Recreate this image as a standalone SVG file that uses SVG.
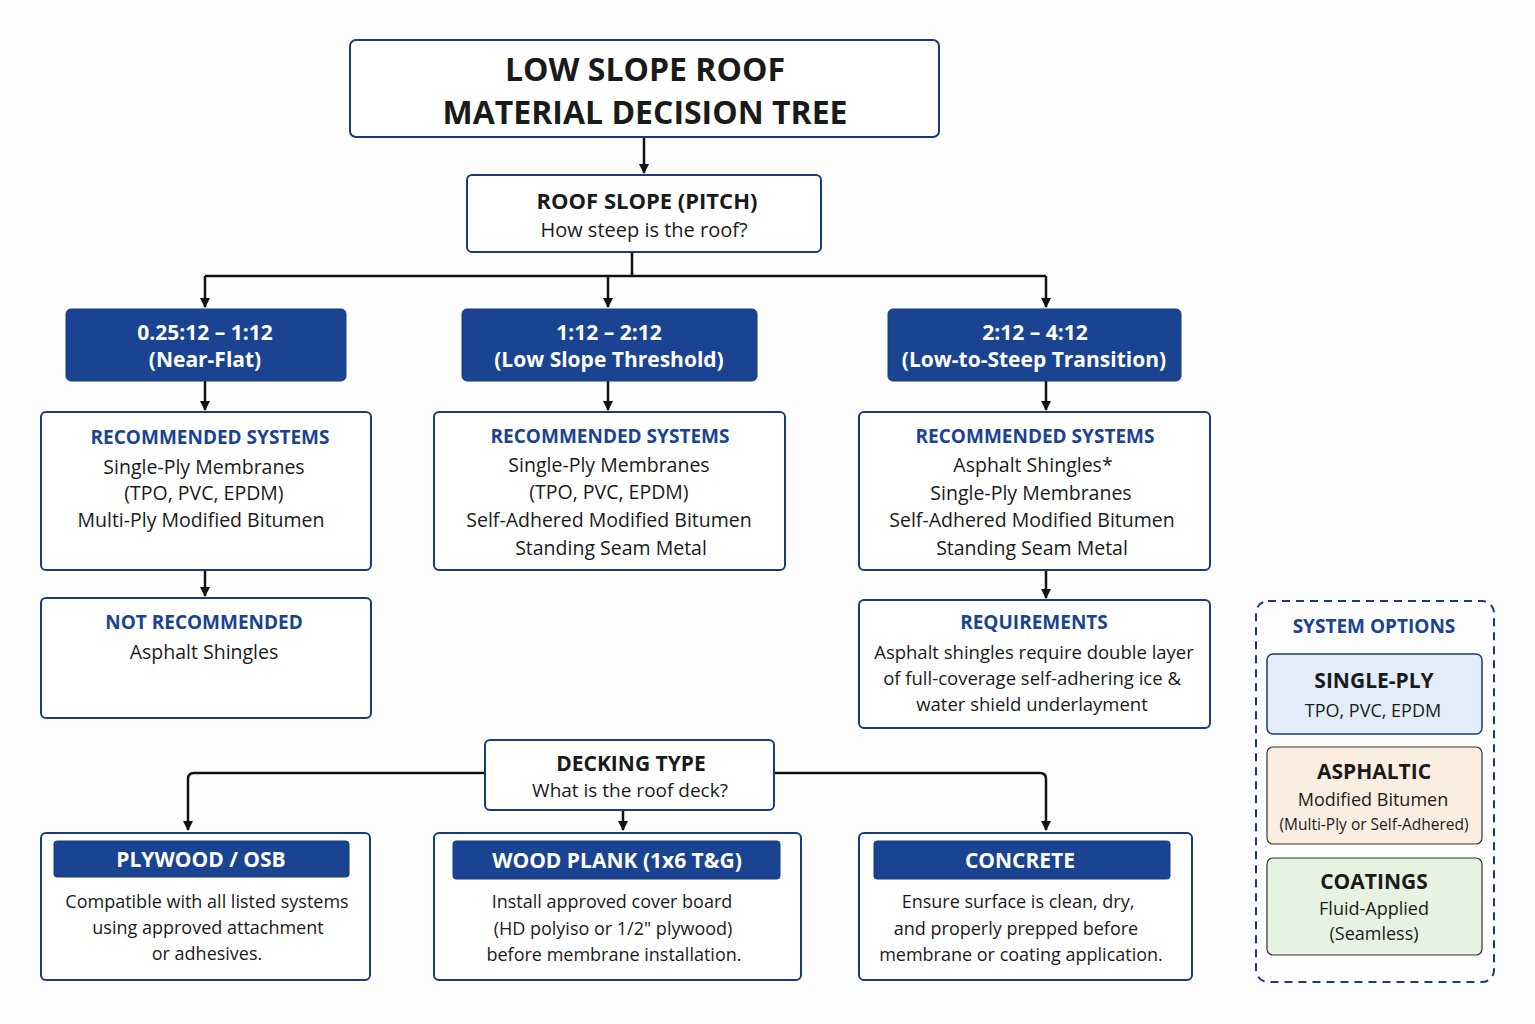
<svg xmlns="http://www.w3.org/2000/svg" width="1535" height="1024" viewBox="0 0 1535 1024">
<defs>
<marker id="ah" markerWidth="10" markerHeight="10" refX="9" refY="5" orient="auto" markerUnits="userSpaceOnUse"><path d="M0,0 L10,5 L0,10 Z" fill="#111"/></marker>
<style>
text{font-family:"Open Sans","Liberation Sans",sans-serif;text-anchor:middle;fill:#1a1a1a}
.box{fill:#fff;stroke:#1a3a7a;stroke-width:2}
.blue{fill:#1a4391;stroke:#1a3a7a;stroke-width:1}
.hw{fill:#fff;font-weight:bold;font-size:21px}
.hb{fill:#1a4391;font-weight:bold;font-size:19px}
.t{font-size:19.5px}
.b{font-weight:bold}
.c{fill:none;stroke:#111;stroke-width:2.5}
</style>
</defs>
<rect width="1535" height="1024" fill="#fdfdfd"/>
<g id="connectors">
<path class="c" d="M644,137 V173" marker-end="url(#ah)"/>
<path class="c" d="M632,252 V276 M205,276 H1046"/>
<path class="c" d="M205,276 V307" marker-end="url(#ah)"/>
<path class="c" d="M608,276 V307" marker-end="url(#ah)"/>
<path class="c" d="M1046,276 V307" marker-end="url(#ah)"/>
<path class="c" d="M205,381 V410" marker-end="url(#ah)"/>
<path class="c" d="M608,381 V410" marker-end="url(#ah)"/>
<path class="c" d="M1046,381 V410" marker-end="url(#ah)"/>
<path class="c" d="M205,570 V596" marker-end="url(#ah)"/>
<path class="c" d="M1046,570 V598" marker-end="url(#ah)"/>
<path class="c" d="M485,773 H194 Q188,773 188,779 V830" marker-end="url(#ah)"/>
<path class="c" d="M774,773 H1040 Q1046,773 1046,779 V830" marker-end="url(#ah)"/>
<path class="c" d="M623,810 V830" marker-end="url(#ah)"/>
</g>
<g id="title"><rect class="box" x="350" y="40" width="589" height="97" rx="6" stroke-width="3"/>
<text x="645" y="81" class="b" font-size="32">LOW SLOPE ROOF</text>
<text x="645" y="124" class="b" font-size="32">MATERIAL DECISION TREE</text></g>
<g id="pitch"><rect class="box" x="467" y="175" width="354" height="77" rx="5" stroke-width="3"/>
<text x="647" y="209" class="b" font-size="22">ROOF SLOPE (PITCH)</text>
<text x="644" y="237" font-size="20">How steep is the roof?</text></g>
<g id="s1"><rect class="blue" x="66" y="309" width="280" height="72" rx="5"/>
<text x="205" y="340" class="hw">0.25:12 – 1:12</text><text x="205" y="367" class="hw" font-size="19">(Near-Flat)</text></g>
<g id="s2"><rect class="blue" x="462" y="309" width="295" height="72" rx="5"/>
<text x="609" y="340" class="hw">1:12 – 2:12</text><text x="609" y="367" class="hw" font-size="19">(Low Slope Threshold)</text></g>
<g id="s3"><rect class="blue" x="888" y="309" width="293" height="72" rx="5"/>
<text x="1035" y="340" class="hw">2:12 – 4:12</text><text x="1034" y="367" class="hw" font-size="19">(Low-to-Steep Transition)</text></g>
<g id="r1"><rect class="box" x="41" y="412" width="330" height="158" rx="5"/>
<text x="210" y="444" class="hb">RECOMMENDED SYSTEMS</text>
<text x="204" y="474" class="t">Single-Ply Membranes</text><text x="204" y="500" class="t">(TPO, PVC, EPDM)</text><text x="201" y="527" class="t">Multi-Ply Modified Bitumen</text></g>
<g id="r2"><rect class="box" x="434" y="412" width="351" height="158" rx="5"/>
<text x="610" y="443" class="hb">RECOMMENDED SYSTEMS</text>
<text x="609" y="472" class="t">Single-Ply Membranes</text><text x="609" y="499" class="t">(TPO, PVC, EPDM)</text><text x="609" y="527" class="t">Self-Adhered Modified Bitumen</text><text x="611" y="555" class="t">Standing Seam Metal</text></g>
<g id="r3"><rect class="box" x="859" y="412" width="351" height="158" rx="5"/>
<text x="1035" y="443" class="hb">RECOMMENDED SYSTEMS</text>
<text x="1033" y="472" class="t">Asphalt Shingles*</text><text x="1031" y="500" class="t">Single-Ply Membranes</text><text x="1032" y="527" class="t">Self-Adhered Modified Bitumen</text><text x="1032" y="555" class="t">Standing Seam Metal</text></g>
<g id="notrec"><rect class="box" x="41" y="598" width="330" height="120" rx="5"/>
<text x="204" y="629" class="hb">NOT RECOMMENDED</text><text x="204" y="659" class="t">Asphalt Shingles</text></g>
<g id="req"><rect class="box" x="859" y="600" width="351" height="128" rx="5"/>
<text x="1034" y="629" class="hb">REQUIREMENTS</text>
<text x="1034" y="659" font-size="18.5">Asphalt shingles require double layer</text><text x="1032" y="685" font-size="18.5">of full-coverage self-adhering ice &amp;</text><text x="1032" y="711" font-size="18.5">water shield underlayment</text></g>
<g id="deck"><rect class="box" x="485" y="740" width="289" height="70" rx="5" stroke-width="3"/>
<text x="631" y="771" class="b" font-size="21">DECKING TYPE</text><text x="630" y="797" font-size="19">What is the roof deck?</text></g>
<g id="d1"><rect class="box" x="41" y="833" width="329" height="147" rx="5"/>
<rect class="blue" x="54" y="841" width="295" height="36" rx="3"/>
<text x="201" y="867" class="hw" font-size="19">PLYWOOD / OSB</text>
<text x="207" y="908" font-size="18">Compatible with all listed systems</text><text x="208" y="934" font-size="18">using approved attachment</text><text x="207" y="960" font-size="18">or adhesives.</text></g>
<g id="d2"><rect class="box" x="434" y="833" width="367" height="147" rx="5"/>
<rect class="blue" x="453" y="841" width="327" height="38" rx="3"/>
<text x="617" y="868" class="hw" font-size="19">WOOD PLANK (1x6 T&amp;G)</text>
<text x="612" y="908" font-size="18">Install approved cover board</text><text x="613" y="935" font-size="18">(HD polyiso or 1/2" plywood)</text><text x="614" y="961" font-size="18">before membrane installation.</text></g>
<g id="d3"><rect class="box" x="859" y="833" width="333" height="147" rx="5"/>
<rect class="blue" x="874" y="841" width="296" height="38" rx="3"/>
<text x="1020" y="868" class="hw" font-size="19">CONCRETE</text>
<text x="1018" y="908" font-size="18">Ensure surface is clean, dry,</text><text x="1016" y="935" font-size="18">and properly prepped before</text><text x="1021" y="961" font-size="18">membrane or coating application.</text></g>
<g id="legend">
<rect x="1256" y="601" width="238" height="381" rx="12" fill="none" stroke="#1a3a7a" stroke-width="2" stroke-dasharray="8,6"/>
<text x="1374" y="633" class="hb" font-size="20">SYSTEM OPTIONS</text>
<rect x="1267" y="654" width="215" height="80" rx="6" fill="#e3edf9" stroke="#1a3a7a" stroke-width="1.5"/>
<text x="1374" y="688" class="b" font-size="21">SINGLE-PLY</text><text x="1373" y="717" font-size="18">TPO, PVC, EPDM</text>
<rect x="1267" y="747" width="215" height="97" rx="6" fill="#fbeee0" stroke="#333" stroke-width="1.2"/>
<text x="1374" y="779" class="b" font-size="21">ASPHALTIC</text><text x="1373" y="806" font-size="18">Modified Bitumen</text><text x="1374" y="830" font-size="15.5">(Multi-Ply or Self-Adhered)</text>
<rect x="1267" y="858" width="215" height="97" rx="6" fill="#e6f3e1" stroke="#333" stroke-width="1.2"/>
<text x="1374" y="889" class="b" font-size="21">COATINGS</text><text x="1374" y="915" font-size="18">Fluid-Applied</text><text x="1374" y="940" font-size="18">(Seamless)</text>
</g>
</svg>
